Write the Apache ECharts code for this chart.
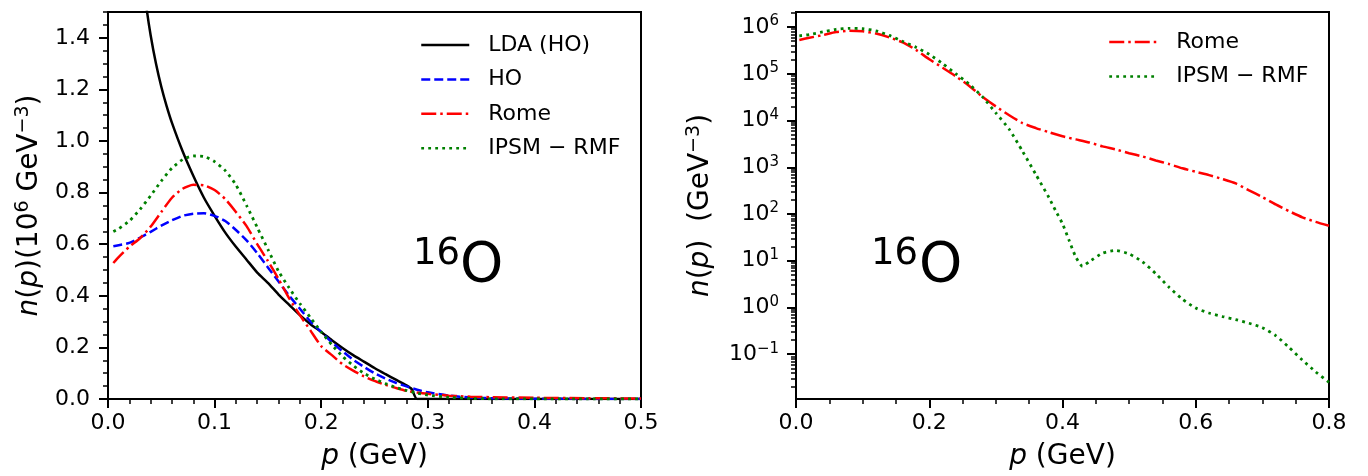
<!DOCTYPE html>
<html><head><meta charset="utf-8">
<script src="https://cdn.jsdelivr.net/npm/echarts@6/dist/echarts.min.js"></script>
<style>html,body{margin:0;padding:0;background:#fff}#c{width:1368px;height:476px}</style>
</head><body><div id="c"></div>
<script>
// ---- data (left panel, linear, units 10^6 GeV^-3) ----
const pLin    = [0.005,0.01,0.02,0.03,0.04,0.05,0.06,0.07,0.08,0.09,0.10,0.11,0.12,0.13,0.14,0.15,0.16,0.17,0.18,0.19,0.20,0.21,0.22,0.23,0.24,0.25,0.26,0.27,0.28,0.29,0.30,0.32,0.34,0.36,0.40,0.45,0.50];
const hoLin   = [0.592,0.596,0.605,0.625,0.648,0.672,0.693,0.710,0.718,0.720,0.710,0.690,0.655,0.615,0.565,0.510,0.455,0.400,0.350,0.300,0.260,0.220,0.185,0.152,0.125,0.100,0.080,0.063,0.049,0.036,0.026,0.013,0.006,0.003,0.001,0.0003,0.0001];
const romeLin = [0.527,0.550,0.590,0.623,0.668,0.725,0.780,0.815,0.830,0.828,0.810,0.775,0.725,0.670,0.600,0.535,0.465,0.390,0.325,0.265,0.205,0.170,0.135,0.110,0.088,0.070,0.055,0.043,0.032,0.025,0.020,0.013,0.0088,0.0069,0.0046,0.0031,0.0020];
const ipsmLin = [0.649,0.660,0.690,0.735,0.788,0.845,0.895,0.928,0.942,0.940,0.920,0.885,0.830,0.750,0.665,0.580,0.495,0.430,0.370,0.315,0.260,0.210,0.165,0.130,0.100,0.078,0.060,0.045,0.033,0.023,0.015,0.0065,0.0022,0.0007,0.0001,0.00001,0.00001];
const pLda    = [0.028,0.032,0.036,0.04,0.045,0.05,0.055,0.06,0.07,0.08,0.09,0.10,0.11,0.12,0.13,0.14,0.15,0.16,0.17,0.18,0.19,0.20,0.21,0.22,0.23,0.24,0.25,0.26,0.27,0.28,0.285,0.29,0.50];
const ldaLin  = [1.84,1.66,1.52,1.41,1.30,1.21,1.135,1.07,0.96,0.865,0.78,0.71,0.645,0.59,0.54,0.49,0.45,0.405,0.365,0.325,0.29,0.26,0.228,0.198,0.17,0.145,0.12,0.097,0.075,0.053,0.038,0.0,0.0];
// ---- data (right panel, log, units GeV^-3) ----
const pRomeLog = [0.005,0.02,0.04,0.06,0.08,0.10,0.12,0.14,0.16,0.18,0.20,0.22,0.24,0.26,0.28,0.30,0.32,0.34,0.36,0.38,0.40,0.42,0.44,0.46,0.48,0.50,0.52,0.54,0.56,0.58,0.60,0.62,0.64,0.66,0.68,0.70,0.72,0.74,0.76,0.78,0.80];
const romeLog  = [5.3e5,5.9e5,6.7e5,7.8e5,8.3e5,8.1e5,7.25e5,6.0e5,4.7e5,3.25e5,2.05e5,1.35e5,8.8e4,5.5e4,3.2e4,2.0e4,1.3e4,8.8e3,6.9e3,5.6e3,4.6e3,3.95e3,3.4e3,2.8e3,2.4e3,2.0e3,1.7e3,1.4e3,1.17e3,950,800,680,560,450,320,230,160,115,85,68,56];
const pIpsmLog = [0.005,0.02,0.04,0.06,0.08,0.10,0.12,0.14,0.16,0.18,0.20,0.22,0.24,0.26,0.28,0.30,0.32,0.34,0.36,0.38,0.39,0.40,0.41,0.42,0.43,0.44,0.46,0.48,0.50,0.52,0.54,0.56,0.58,0.60,0.62,0.64,0.66,0.68,0.70,0.72,0.74,0.76,0.78,0.80];
const ipsmLog  = [6.5e5,6.9e5,7.9e5,8.95e5,9.4e5,9.2e5,8.3e5,6.65e5,4.95e5,3.7e5,2.6e5,1.65e5,1.0e5,6.0e4,3.2e4,1.45e4,6.5e3,2.2e3,700,220,115,62,27,12,7.6,9.5,14.5,16.6,14,9.5,5.3,2.7,1.5,0.97,0.76,0.64,0.55,0.46,0.37,0.25,0.14,0.075,0.042,0.025];
// ---- ticks & labels ----
const xTicksLeft  = [0,0.1,0.2,0.3,0.4,0.5];
const yTicksLeft  = [0,0.2,0.4,0.6,0.8,1.0,1.2,1.4];
const xTicksRight = [0,0.2,0.4,0.6,0.8];
const yTicksRight = [0.1,1,10,100,1000,1e4,1e5,1e6];
const namesLeft   = ['LDA (HO)','HO','Rome','IPSM \u2212 RMF'];
const namesRight  = ['Rome','IPSM \u2212 RMF'];

const FONT = 'DejaVu Sans';
const zip = (xs, ys) => xs.map((x, i) => [x, ys[i]]);
function stepTicks(a, b, step, skip) {
  const out = [];
  for (let i = 0; a + i * step <= b + 1e-9; i++) {
    const v = +(a + i * step).toFixed(6);
    if (!skip.some(s => Math.abs(s - v) < 1e-9)) out.push(v);
  }
  return out;
}
const logMinor = [];
for (let e = -2; e <= 6; e++) for (let k = 2; k <= 9; k++) logMinor.push(+(k * Math.pow(10, e)).toPrecision(3));

const rich = {
  i: {fontFamily: FONT, fontSize: 28, fontStyle: 'italic', color: '#000'},
  r: {fontFamily: FONT, fontSize: 28, color: '#000'},
  s: {fontFamily: FONT, fontSize: 19, color: '#000', padding: [0, 0, 13, 0]}
};
const tickFont = {fontFamily: FONT, fontSize: 22, color: '#000'};

function majorAxis(o) {
  return Object.assign({
    axisLine: {show: false}, splitLine: {show: false},
    axisTick: {show: true, customValues: o.ticks, length: 9, lineStyle: {width: 2, color: '#000'}},
    axisLabel: Object.assign({customValues: o.ticks}, tickFont, o.label || {}),
    nameLocation: 'middle', nameTextStyle: {fontFamily: FONT, fontSize: 28, color: '#000', rich: rich}
  }, o.extra);
}
function minorAxis(o) {
  return Object.assign({
    axisLine: {show: false}, splitLine: {show: false}, axisLabel: {show: false},
    axisTick: {show: true, customValues: o.ticks, length: 5, lineStyle: {width: 1.5, color: '#000'}}
  }, o.extra);
}

const LW = 2.5;
const ls = (color, type, w) => ({color: color, width: w || LW, type: type});
const DASH = [9, 4], DASHDOT = [15, 4, 2.5, 4], DOT = [2.8, 4.2];

const legendBase = {orient: 'vertical', itemWidth: 48, itemHeight: 22, itemGap: 12.4, padding: 0,
  itemStyle: {opacity: 0}, lineStyle: {width: LW},
  textStyle: {fontFamily: FONT, fontSize: 22, color: '#000', padding: [0, 0, 0, 14]}};

const chart = echarts.init(document.getElementById('c'), null, {renderer: 'canvas'});
chart.setOption({
  animation: false,
  backgroundColor: '#fff',
  grid: [
    {left: 108, top: 12, width: 533, height: 388, show: true, borderColor: '#000', borderWidth: 2},
    {left: 796, top: 12, width: 533, height: 388, show: true, borderColor: '#000', borderWidth: 2}
  ],
  xAxis: [
    majorAxis({ticks: xTicksLeft, label: {margin: 13, formatter: v => v.toFixed(1)},
      extra: {gridIndex: 0, position: 'bottom', type: 'value', min: 0, max: 0.5, name: '{i|p}{r| (GeV)}', nameGap: 44}}),
    minorAxis({ticks: stepTicks(0, 0.5, 0.02, xTicksLeft), extra: {gridIndex: 0, position: 'bottom', type: 'value', min: 0, max: 0.5}}),
    majorAxis({ticks: xTicksRight, label: {margin: 13, formatter: v => v.toFixed(1)},
      extra: {gridIndex: 1, position: 'bottom', type: 'value', min: 0, max: 0.8, name: '{i|p}{r| (GeV)}', nameGap: 44}}),
    minorAxis({ticks: stepTicks(0, 0.8, 0.05, xTicksRight), extra: {gridIndex: 1, position: 'bottom', type: 'value', min: 0, max: 0.8}})
  ],
  yAxis: [
    majorAxis({ticks: yTicksLeft, label: {margin: 18, formatter: v => v.toFixed(1)},
      extra: {gridIndex: 0, position: 'left', type: 'value', min: 0, max: 1.5, nameRotate: 90, nameGap: 62,
        name: '{i|n}{r|(}{i|p}{r|)(10}{s|6}{r| GeV}{s|\u22123}{r|)}'}}),
    minorAxis({ticks: stepTicks(0, 1.5, 0.05, yTicksLeft), extra: {gridIndex: 0, position: 'left', type: 'value', min: 0, max: 1.5}}),
    majorAxis({ticks: yTicksRight, label: {margin: 17,
        formatter: v => { const e = Math.round(Math.log10(v)); return '10{s|' + (e < 0 ? '\u2212' + (-e) : e) + '}'; },
        rich: {s: {fontFamily: FONT, fontSize: 15, color: '#000', padding: [0, 0, 11, 0]}}},
      extra: {gridIndex: 1, position: 'left', type: 'log', logBase: 10, min: 0.011, max: 2.1e6, nameRotate: 90, nameGap: 79,
        name: '{i|n}{r|(}{i|p}{r|)  (GeV}{s|\u22123}{r|)}'}}),
    minorAxis({ticks: logMinor, extra: {gridIndex: 1, position: 'left', type: 'log', logBase: 10, min: 0.011, max: 2.1e6}})
  ],
  legend: [
    Object.assign({data: namesLeft, left: 420, top: 34}, legendBase),
    Object.assign({data: namesRight, left: 1108, top: 31}, legendBase)
  ],
  series: [
    {name: 'LDA (HO)', type: 'line', xAxisIndex: 0, yAxisIndex: 0, data: zip(pLda, ldaLin), symbol: 'none', smooth: 0.2, color: '#000', lineStyle: ls('#000', 'solid')},
    {name: 'HO', type: 'line', xAxisIndex: 0, yAxisIndex: 0, data: zip(pLin, hoLin), symbol: 'none', smooth: 0.2, color: '#0000ff', lineStyle: ls('#0000ff', DASH)},
    {name: 'Rome', type: 'line', xAxisIndex: 0, yAxisIndex: 0, data: zip(pLin, romeLin), symbol: 'none', smooth: 0.2, color: '#ff0000', lineStyle: ls('#ff0000', DASHDOT)},
    {name: 'IPSM \u2212 RMF', type: 'line', xAxisIndex: 0, yAxisIndex: 0, data: zip(pLin, ipsmLin), symbol: 'none', smooth: 0.2, color: '#008000', lineStyle: ls('#008000', DOT, 2.8)},
    {name: 'Rome', type: 'line', xAxisIndex: 2, yAxisIndex: 2, data: zip(pRomeLog, romeLog), symbol: 'none', smooth: 0.2, color: '#ff0000', lineStyle: ls('#ff0000', DASHDOT)},
    {name: 'IPSM \u2212 RMF', type: 'line', xAxisIndex: 2, yAxisIndex: 2, data: zip(pIpsmLog, ipsmLog), symbol: 'none', smooth: 0.2, color: '#008000', lineStyle: ls('#008000', DOT, 2.8)}
  ],
  graphic: [
    {type: 'text', left: 413, top: 236, style: {text: '16', fontFamily: FONT, fontSize: 37, fill: '#000'}},
    {type: 'text', left: 460, top: 239, style: {text: 'O', fontFamily: FONT, fontSize: 55, fill: '#000'}},
    {type: 'text', left: 871, top: 236, style: {text: '16', fontFamily: FONT, fontSize: 37, fill: '#000'}},
    {type: 'text', left: 919, top: 239, style: {text: 'O', fontFamily: FONT, fontSize: 55, fill: '#000'}}
  ]
});
</script></body></html>
